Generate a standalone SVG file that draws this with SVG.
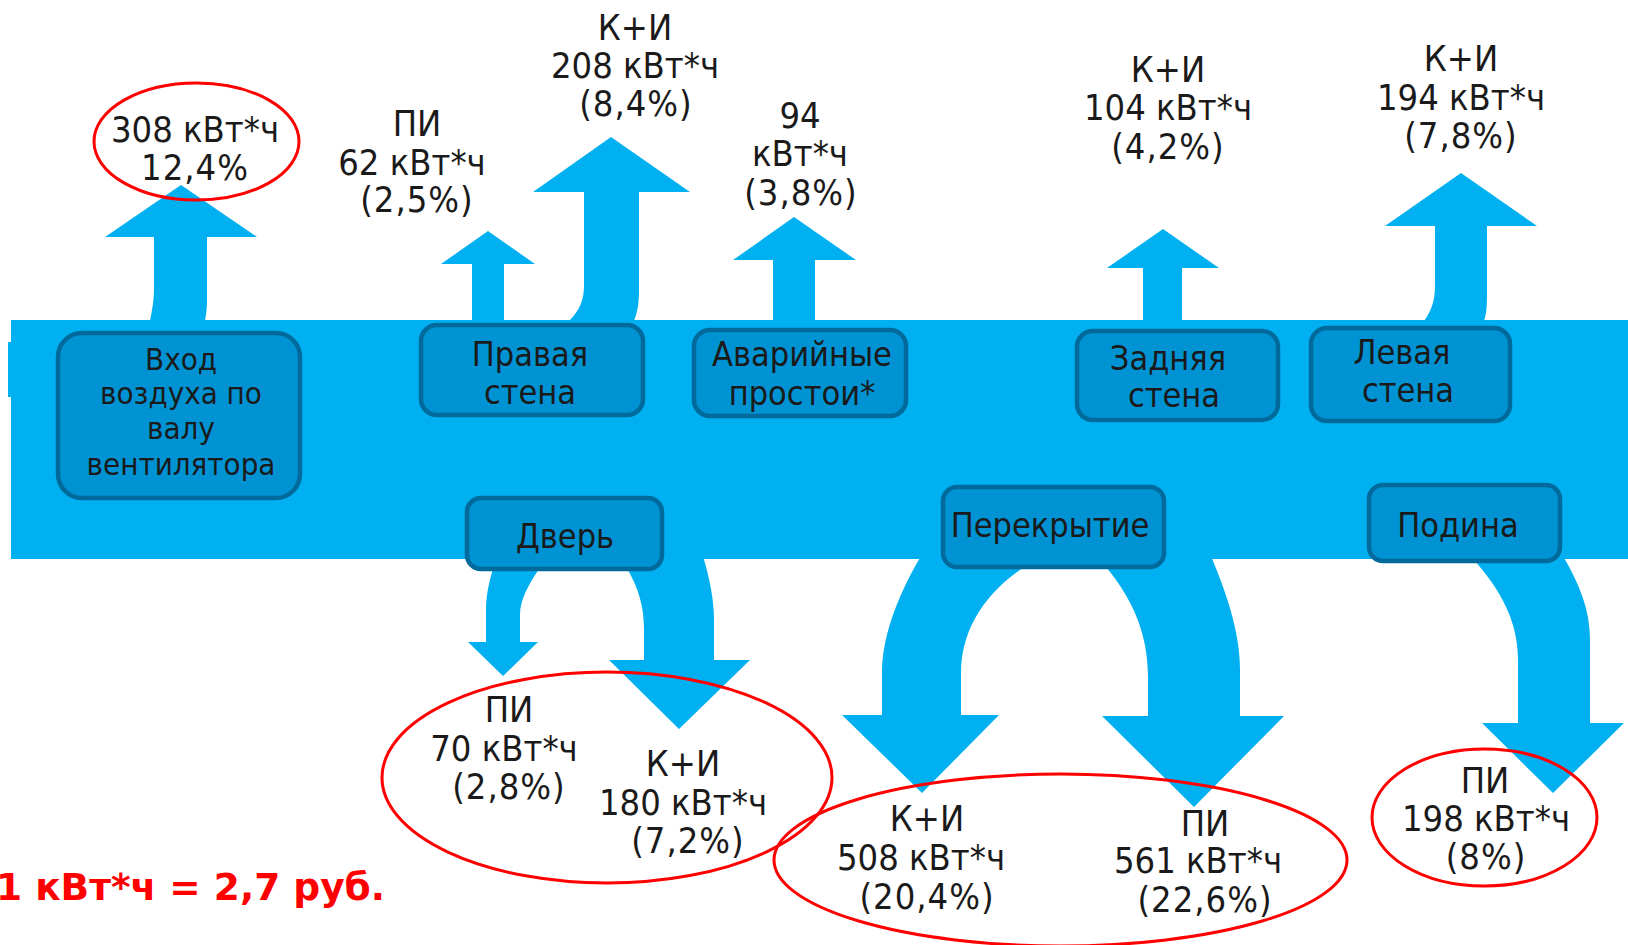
<svg xmlns="http://www.w3.org/2000/svg" width="1628" height="945" viewBox="0 0 1628 945">
<style>
.flow{fill:#00B0F0}
.box{fill:#0093D3;stroke:#006A9C;stroke-width:4.5}
.bt{font-family:"DejaVu Sans Condensed","DejaVu Sans",sans-serif;font-stretch:condensed;font-size:34px;fill:#1A1A1A;text-anchor:middle}
.lbl{font-family:"DejaVu Sans Condensed","DejaVu Sans",sans-serif;font-stretch:condensed;font-size:36px;fill:#1A1A1A;text-anchor:middle}
.pc{letter-spacing:1px}
.ring{fill:none;stroke:#FF0000;stroke-width:3}
.note{font-family:"DejaVu Sans",sans-serif;font-weight:bold;font-size:37.5px;fill:#FF0000}
</style>
<rect width="1628" height="945" fill="#FFFFFF"/>
<g id="band">
<rect class="flow" x="11" y="320" width="1617" height="239"/>
<rect class="flow" x="8" y="342" width="4" height="55"/>
</g>
<g id="connectors">
<path class="flow" d="M150,321 C152,310 154,300 154,290 L154,237 L105,237 L181,185 L257,237 L207,237 L207,300 C207,310 206,315 205,321 Z"/>
<path class="flow" d="M472,321 L472,264 L441,264 L488,231 L535,264 L504,264 L504,321 Z"/>
<path class="flow" d="M569,321 C580,310 584,300 584,285 L584,192 L533,192 L611,137 L690,192 L639,192 L639,290 C639,305 637,313 634,321 Z"/>
<path class="flow" d="M773,321 L773,260 L733,260 L794,217 L856,260 L815,260 L815,321 Z"/>
<path class="flow" d="M1143,321 L1143,268 L1107,268 L1163,229 L1219,268 L1182,268 L1182,321 Z"/>
<path class="flow" d="M1424,321 C1432,310 1435,300 1435,285 L1435,226 L1385,226 L1461,173 L1537,226 L1487,226 L1487,295 C1487,308 1486,315 1484,321 Z"/>
<path class="flow" d="M497,556 C489,580 486,595 486,610 L486,642 L468,642 L503,676 L538,642 L520,642 L520,615 C520,600 528,585 541,566 L541,556 Z"/>
<path class="flow" d="M703,556 C710,580 714,600 714,620 L714,660 L750,660 L679,729 L609,660 L644,660 L644,630 C644,605 638,588 628,570 L625,556 Z"/>
<path class="flow" d="M921,556 C895,600 882,640 882,673 L882,715 L842,715 L922,793 L999,715 L961,715 L961,673 C961,630 985,590 1032,562 L1032,556 Z"/>
<path class="flow" d="M1211,556 C1225,590 1240,630 1240,670 L1240,716 L1284,716 L1194,807 L1102,716 L1148,716 L1148,677 C1148,630 1130,595 1102,562 L1102,556 Z"/>
<path class="flow" d="M1563,556 C1580,585 1590,610 1590,640 L1590,723 L1624,723 L1553,793 L1482,723 L1518,723 L1518,660 C1518,620 1500,590 1475,561 L1475,556 Z"/>
</g>
<g id="node-vhod">
<rect class="box" x="58" y="333" width="242" height="165" rx="24"/>
<text class="bt" style="font-size:31px"><tspan x="181" y="370">Вход</tspan><tspan x="181" y="404">воздуха по</tspan><tspan x="181" y="439">валу</tspan><tspan x="181" y="475">вентилятора</tspan></text>
</g>
<g id="node-pravaya">
<rect class="box" x="421" y="325" width="222" height="90" rx="16"/>
<text class="bt"><tspan x="530" y="366">Правая</tspan><tspan x="530" y="404">стена</tspan></text>
</g>
<g id="node-avariynye">
<rect class="box" x="694" y="330" width="212" height="86" rx="16"/>
<text class="bt"><tspan x="802" y="366">Аварийные</tspan><tspan x="802" y="405">простои*</tspan></text>
</g>
<g id="node-zadnyaya">
<rect class="box" x="1077" y="331" width="201" height="89" rx="16"/>
<text class="bt"><tspan x="1168" y="370">Задняя</tspan><tspan x="1174" y="407">стена</tspan></text>
</g>
<g id="node-levaya">
<rect class="box" x="1311" y="328" width="199" height="93" rx="16"/>
<text class="bt"><tspan x="1402" y="364">Левая</tspan><tspan x="1408" y="402">стена</tspan></text>
</g>
<g id="node-dver">
<rect class="box" x="467" y="498" width="195" height="71" rx="14"/>
<text class="bt" x="565" y="548">Дверь</text>
</g>
<g id="node-perekrytie">
<rect class="box" x="943" y="487" width="221" height="80" rx="14"/>
<text class="bt" x="1050" y="537">Перекрытие</text>
</g>
<g id="node-podina">
<rect class="box" x="1369" y="485" width="191" height="76" rx="14"/>
<text class="bt" x="1458" y="537">Подина</text>
</g>
<g id="labels">
<text class="lbl"><tspan x="195" y="142">308 кВт*ч</tspan><tspan class="pc" x="195" y="180">12,4%</tspan></text>
<text class="lbl"><tspan x="417" y="136">ПИ</tspan><tspan x="412" y="175">62 кВт*ч</tspan><tspan class="pc" x="417" y="212">(2,5%)</tspan></text>
<text class="lbl"><tspan x="635" y="40">К+И</tspan><tspan x="635" y="78">208 кВт*ч</tspan><tspan class="pc" x="636" y="116">(8,4%)</tspan></text>
<text class="lbl"><tspan x="800" y="128">94</tspan><tspan x="800" y="166">кВт*ч</tspan><tspan class="pc" x="801" y="205">(3,8%)</tspan></text>
<text class="lbl"><tspan x="1168" y="82">К+И</tspan><tspan x="1168" y="120">104 кВт*ч</tspan><tspan class="pc" x="1168" y="159">(4,2%)</tspan></text>
<text class="lbl"><tspan x="1461" y="71">К+И</tspan><tspan x="1461" y="110">194 кВт*ч</tspan><tspan class="pc" x="1461" y="148">(7,8%)</tspan></text>
<text class="lbl"><tspan x="509" y="722">ПИ</tspan><tspan x="504" y="761">70 кВт*ч</tspan><tspan class="pc" x="509" y="799">(2,8%)</tspan></text>
<text class="lbl"><tspan x="683" y="776">К+И</tspan><tspan x="683" y="815">180 кВт*ч</tspan><tspan class="pc" x="688" y="853">(7,2%)</tspan></text>
<text class="lbl"><tspan x="927" y="831">К+И</tspan><tspan x="921" y="870">508 кВт*ч</tspan><tspan class="pc" x="927" y="909">(20,4%)</tspan></text>
<text class="lbl"><tspan x="1205" y="836">ПИ</tspan><tspan x="1198" y="873">561 кВт*ч</tspan><tspan class="pc" x="1205" y="912">(22,6%)</tspan></text>
<text class="lbl"><tspan x="1485" y="793">ПИ</tspan><tspan x="1486" y="831">198 кВт*ч</tspan><tspan class="pc" x="1486" y="869">(8%)</tspan></text>
</g>
<g id="highlights">
<ellipse class="ring" cx="196.5" cy="141.5" rx="102.5" ry="58.5"/>
<ellipse class="ring" cx="607" cy="777.5" rx="225" ry="105.5"/>
<ellipse class="ring" cx="1060.5" cy="860" rx="286.5" ry="86"/>
<ellipse class="ring" cx="1484.5" cy="817.5" rx="112.5" ry="68.5"/>
</g>
<text class="note" x="-4" y="900">1 кВт*ч = 2,7 руб.</text>
</svg>
